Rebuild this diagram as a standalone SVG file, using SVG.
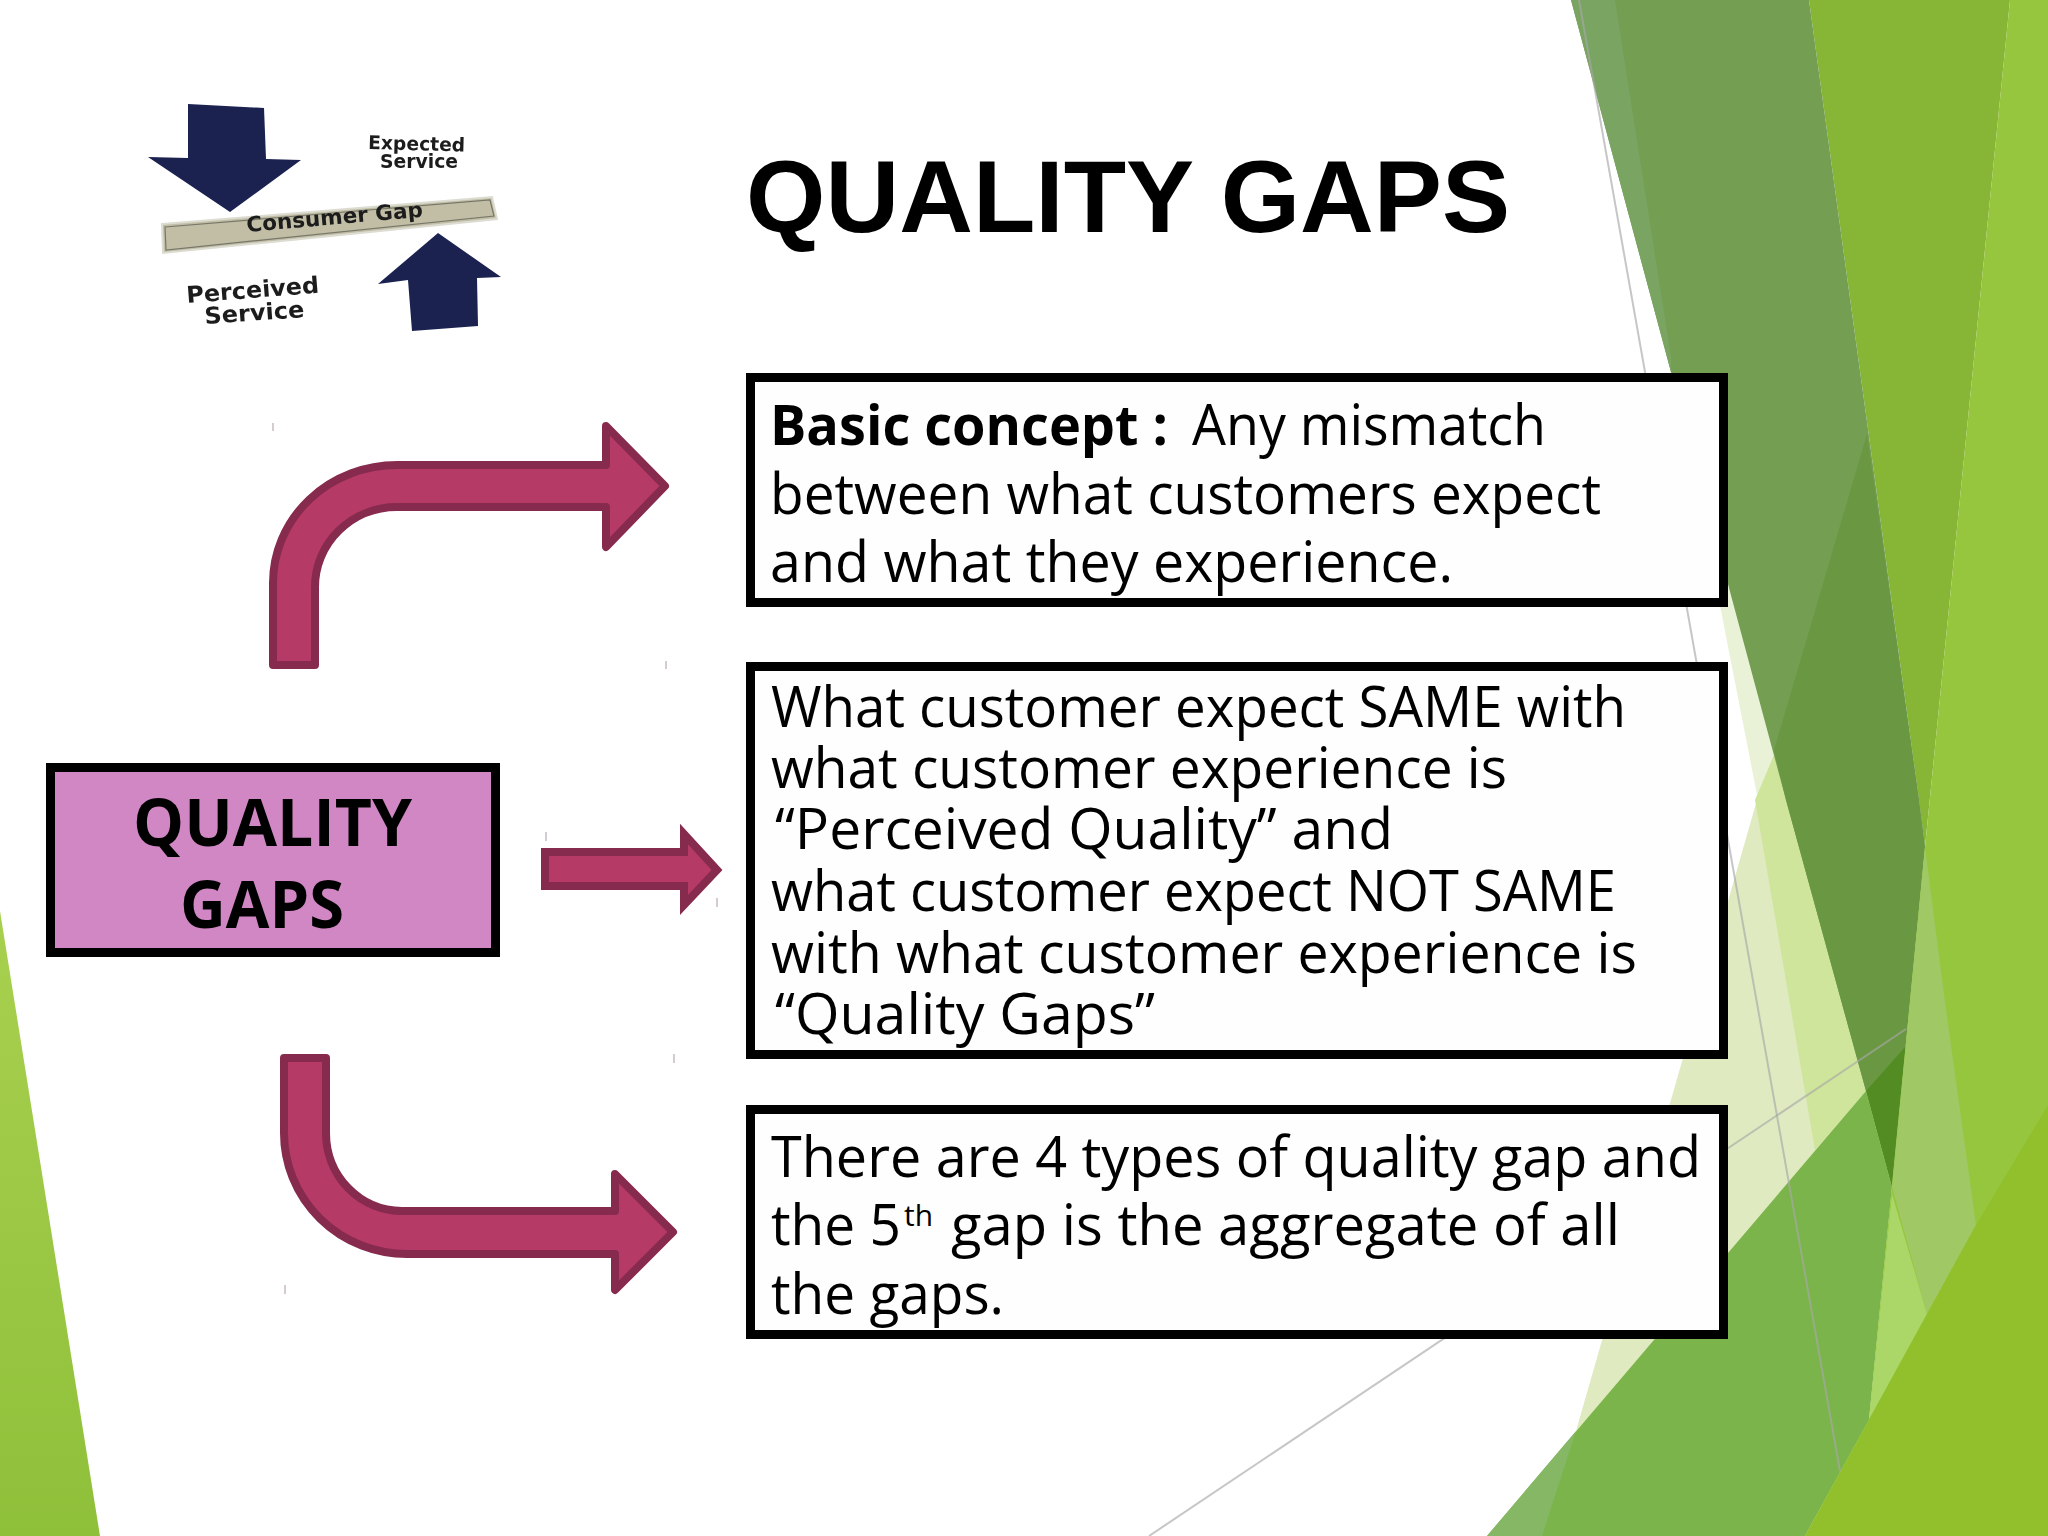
<svg xmlns="http://www.w3.org/2000/svg" width="2048" height="1536" viewBox="0 0 2048 1536">
<style>
.box{fill:#fefefe;stroke:#000;stroke-width:9}
.body{font-family:"Open Sans","Noto Sans",sans-serif;font-size:56px;fill:#000}
.b{font-weight:700}
.arrow{fill:#b63a66;stroke:#862a4e;stroke-width:8;stroke-linejoin:round}
.tick{stroke:#c9b9c4;stroke-width:1.5}
.gl{fill:none;stroke:#a8a8a8;stroke-width:2;opacity:.65}
.pic{font-family:"DejaVu Sans",sans-serif;font-weight:700;fill:#1c1c1c}
</style>
<defs>
<linearGradient id="lt" x1="0" y1="0" x2="0" y2="1"><stop offset="0" stop-color="#a8d04f"/><stop offset="1" stop-color="#8fc03a"/></linearGradient>
<filter id="soft" x="-5%" y="-5%" width="110%" height="110%"><feGaussianBlur stdDeviation="0.6"/></filter>
</defs>
<rect width="2048" height="1536" fill="#fff"/>
<g id="background">
<polygon points="0,911 100,1536 0,1536" fill="url(#lt)"/>
<polygon points="1715,580 1729,587 1800,800 1760,810" fill="#e9f1d6"/>
<polygon points="1774,755 1757,800 1576,1431 1530,1500 1866,1091 1800,800" fill="#dfeac0"/>
<polygon points="1774,755 1787,800 1866,1091 1815,1150 1755,800" fill="#cfe59b"/>
<polygon points="1809,0 2010,0 1925,847 1919,800" fill="#87b535"/>
<polygon points="1571,0 1809,0 1919,800 1925,847 1892,1187 1866,1091 1786,800" fill="#749e52"/>
<polygon points="1571,0 1615,0 1671,357 1671,372" fill="#7aa462"/>
<polygon points="1867,434 1919,800 1925,847 1892,1187 1866,1091 1786,800 1774,750" fill="#6a9842"/>
<polygon points="1866,1091 1906,1046 1892,1187" fill="#528c22"/>
<polygon points="1487,1536 1866,1091 1892,1187 1869,1420 1805,1536" fill="#7bb44a"/>
<polygon points="1487,1536 1576,1431 1542,1536" fill="#86b765"/>
<polygon points="2010,0 2048,0 2048,1536 1805,1536 1869,1420 1925,847" fill="#96c63e"/>
<polygon points="1925,847 1945,1002 1976,1225 1927,1314 1892,1187" fill="#a0c865"/>
<polygon points="1892,1194 1927,1314 1869,1420" fill="#aad767"/>
<polygon points="1805,1536 1976,1225 2048,1105 2048,1536" fill="#92c02c"/>
<line class="gl" x1="1579" y1="0" x2="1840" y2="1471"/>
<line class="gl" x1="1149" y1="1536" x2="1906" y2="1029"/>
</g>
<g id="picture" filter="url(#soft)">
<polygon points="188,104 264,108 266,159 301,160 230,212 148,157 188,158" fill="#1a2150"/>
<polygon points="438,233 501,277 477,278 478,326 412,331 408,280 378,284" fill="#1a2150"/>
<polygon points="162,224 492,197 497,219 163,253" fill="#c1bea5" stroke="#dcdcd2" stroke-width="2"/>
<polygon points="165,227 490,200 494,216 166,250" fill="none" stroke="#77776a" stroke-width="1.2"/>
<text class="pic" font-size="21" transform="translate(247,232) rotate(-5)" textLength="177" lengthAdjust="spacingAndGlyphs">Consumer Gap</text>
<text class="pic" font-size="19" transform="translate(368,149) rotate(1.5)" textLength="97" lengthAdjust="spacingAndGlyphs">Expected</text>
<text class="pic" font-size="19" transform="translate(380,168)" textLength="78" lengthAdjust="spacingAndGlyphs">Service</text>
<text class="pic" font-size="23" transform="translate(187,303) rotate(-4.5)" textLength="133" lengthAdjust="spacingAndGlyphs">Perceived</text>
<text class="pic" font-size="23" transform="translate(205,324) rotate(-4)" textLength="100" lengthAdjust="spacingAndGlyphs">Service</text>
</g>
<g id="title">
<text x="746" y="232" font-family="'Liberation Sans',Arial,sans-serif" font-weight="700" font-size="102" textLength="764" lengthAdjust="spacingAndGlyphs" fill="#000">QUALITY GAPS</text>
</g>
<g id="connectors">
<path class="arrow" d="M273 665V583A124 118 0 0 1 397 465H606V426L665 486L606 547V507H397A82 80 0 0 0 315 587V665Z"/>
<path class="arrow" style="stroke-linejoin:miter" d="M545 852H684V834L717 870L684 905V886H545Z"/>
<path class="arrow" d="M284 1058H326V1133A76 78 0 0 0 402 1211H615V1174L673 1232L615 1290V1254H407A123 121 0 0 1 284 1133Z"/>
</g>
<g id="ticks">
<line class="tick" x1="273" y1="423" x2="273" y2="431"/>
<line class="tick" x1="666" y1="661" x2="666" y2="669"/>
<line class="tick" x1="546" y1="832" x2="546" y2="841"/>
<line class="tick" x1="717" y1="898" x2="717" y2="907"/>
<line class="tick" x1="674" y1="1054" x2="674" y2="1063"/>
<line class="tick" x1="285" y1="1285" x2="285" y2="1294"/>
</g>
<g id="node-quality-gaps">
<rect x="50.5" y="767.5" width="445" height="185" fill="#d287c5" stroke="#000" stroke-width="9"/>
<text class="body b" x="133" y="846" style="font-size:67px" textLength="279" lengthAdjust="spacingAndGlyphs">QUALITY</text>
<text class="body b" x="180" y="928" style="font-size:67px" textLength="164" lengthAdjust="spacingAndGlyphs">GAPS</text>
</g>
<g id="node-basic-concept">
<rect class="box" x="750.5" y="377.5" width="973" height="225"/>
<text class="body b" x="770" y="445" textLength="398" lengthAdjust="spacingAndGlyphs">Basic concept :</text>
<text class="body" x="1192" y="445" textLength="354" lengthAdjust="spacingAndGlyphs">Any mismatch</text>
<text class="body" x="770" y="514" textLength="831" lengthAdjust="spacingAndGlyphs">between what customers expect</text>
<text class="body" x="770" y="582" textLength="683" lengthAdjust="spacingAndGlyphs">and what they experience.</text>
</g>
<g id="node-perceived">
<rect class="box" x="750.5" y="666.5" width="973" height="388"/>
<text class="body" x="771" y="727" textLength="855" lengthAdjust="spacingAndGlyphs">What customer expect SAME with</text>
<text class="body" x="771" y="788" textLength="736" lengthAdjust="spacingAndGlyphs">what customer experience is</text>
<text class="body" x="775" y="849" textLength="618" lengthAdjust="spacingAndGlyphs">“Perceived Quality” and</text>
<text class="body" x="771" y="911" textLength="845" lengthAdjust="spacingAndGlyphs">what customer expect NOT SAME</text>
<text class="body" x="771" y="973" textLength="866" lengthAdjust="spacingAndGlyphs">with what customer experience is</text>
<text class="body" x="775" y="1034" textLength="380" lengthAdjust="spacingAndGlyphs">“Quality Gaps”</text>
</g>
<g id="node-types">
<rect class="box" x="750.5" y="1109.5" width="973" height="225"/>
<text class="body" x="771" y="1177" textLength="930" lengthAdjust="spacingAndGlyphs">There are 4 types of quality gap and</text>
<text class="body" x="771" y="1245" textLength="130" lengthAdjust="spacingAndGlyphs">the 5</text>
<text class="body" x="904" y="1226" style="font-size:30px" textLength="29" lengthAdjust="spacingAndGlyphs">th</text>
<text class="body" x="951" y="1245" textLength="669" lengthAdjust="spacingAndGlyphs">gap is the aggregate of all</text>
<text class="body" x="771" y="1314" textLength="233" lengthAdjust="spacingAndGlyphs">the gaps.</text>
</g>
</svg>
